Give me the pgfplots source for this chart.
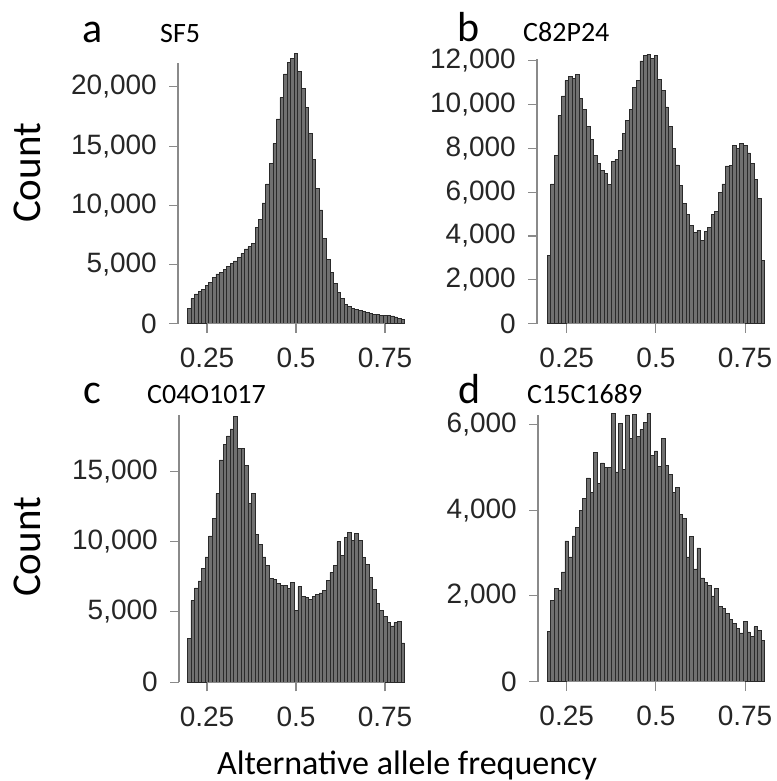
\documentclass[border=0pt]{standalone}
\usepackage{pgfplots}
\pgfplotsset{compat=1.18}
\usepackage{pgfplotstable}
\usepackage{fontspec}
\setmainfont{Liberation Sans}
\newfontfamily\calfont{Carlito}
\definecolor{barfill}{HTML}{707070}
\definecolor{baredge}{HTML}{2A2A2A}
\definecolor{axgray}{HTML}{8A8A8A}
\definecolor{txt}{HTML}{262626}

\pgfplotstableread{
x a b c d
0.20 1250 3130 3100 1180
0.21 2100 6380 5800 1900
0.22 2500 7700 6700 2170
0.23 2700 9500 7200 2140
0.24 2900 10400 8100 2560
0.25 3200 11100 8900 3280
0.26 3500 11300 10400 2910
0.27 3900 11200 11650 3400
0.28 4200 11400 13400 3590
0.29 4300 10300 15800 4000
0.30 4600 9800 16900 4270
0.31 4800 9000 17500 4750
0.32 5100 8400 18000 4420
0.33 5300 7700 18900 5350
0.34 5600 7300 16600 4620
0.35 5900 7000 16600 5100
0.36 6300 6850 15400 5000
0.37 6500 6350 12700 4990
0.38 6800 7400 13400 6250
0.39 8100 7500 10500 4890
0.40 8800 7900 9800 6030
0.41 10200 8700 8900 4940
0.42 11800 9300 8300 6220
0.43 13500 9800 7400 5670
0.44 15200 10800 7300 6230
0.45 17300 11100 7000 5710
0.46 19100 12000 6900 5880
0.47 21100 12250 6900 6040
0.48 22100 12300 6650 6250
0.49 22400 12100 7100 5280
0.50 22800 12250 5100 5380
0.51 21300 11150 6800 5010
0.52 19900 10650 6100 5670
0.53 18300 9900 6050 5040
0.54 16100 9000 5900 4830
0.55 13900 8000 6100 4420
0.56 11400 7250 6250 4520
0.57 9600 6300 6350 3900
0.58 7200 5500 6500 3800
0.59 5400 5000 7250 2910
0.60 4300 4500 7800 3380
0.61 3400 4150 8300 2630
0.62 2600 4270 10000 3120
0.63 2100 3800 9000 2420
0.64 1600 4200 10300 2310
0.65 1450 4400 10650 2250
0.66 1300 5000 10100 2000
0.67 1200 5130 10600 2170
0.68 1100 6000 10100 1750
0.69 1050 6380 8850 1700
0.70 960 7200 8350 1590
0.71 880 7220 7450 1450
0.72 800 8140 6600 1360
0.73 750 8000 5600 1240
0.74 700 8240 5100 1140
0.75 700 8150 4700 1400
0.76 680 7800 4250 1160
0.77 650 7300 4000 1060
0.78 550 6600 4250 1280
0.79 450 5700 4350 1200
0.80 350 2870 2800 970
}\hist

\tikzset{axl/.style={axgray, line width=1.1pt}}
\pgfplotsset{
 hp/.style={
  anchor=south west, clip=false,
  axis x line*=bottom, axis y line*=left,
  axis line style={draw=none},
  tick align=outside,
  major tick length=9pt,
  tick style={axgray, line width=1.1pt},
  xtick={0.25,0.5,0.75}, xticklabels={0.25,0.5,0.75},
  ticklabel style={font=\fontsize{28}{28}\selectfont, text=txt, inner sep=1pt},
  xticklabel style={yshift=-14pt},
  yticklabel style={xshift=-11pt},
  xmax=0.81, ymin=0,
  scaled y ticks=false,
 },
 hbar/.style={ybar, bar width=0.01, bar shift=0pt, fill=barfill, draw=baredge, line width=0.6pt},
}

\begin{document}
\begin{tikzpicture}
\path[use as bounding box] (0pt,0pt) rectangle (776pt,-781pt);

% panel a
\begin{axis}[hp, at={(178pt,-323.5pt)}, x=356pt, y=0.011825pt, xmin=0.1685, ymax=23000,
  ytick={0,5000,10000,15000,20000}, yticklabels={0,{5,000},{10,000},{15,000},{20,000}}]
\addplot[hbar] table[x=x,y=a]{\hist};
\draw[axl] (axis cs:0.25,0) -- (axis cs:0.75,0);
\draw[axl] (axis cs:0.1685,0) -- (axis cs:0.1685,22000);
\end{axis}

% panel b
\begin{axis}[hp, at={(537pt,-323.5pt)}, x=356.7pt, y=0.021875pt, xmin=0.1667, ymax=12500,
  ytick={0,2000,4000,6000,8000,10000,12000}, yticklabels={0,{2,000},{4,000},{6,000},{8,000},{10,000},{12,000}}]
\addplot[hbar] table[x=x,y=b]{\hist};
\draw[axl] (axis cs:0.25,0) -- (axis cs:0.75,0);
\draw[axl] (axis cs:0.1667,0) -- (axis cs:0.1667,12100);
\end{axis}

% panel c
\begin{axis}[hp, at={(179pt,-682.3pt)}, x=356pt, y=0.014087pt, xmin=0.1713, ymax=19500,
  ytick={0,5000,10000,15000}, yticklabels={0,{5,000},{10,000},{15,000}}]
\addplot[hbar] table[x=x,y=c]{\hist};
\draw[axl] (axis cs:0.25,0) -- (axis cs:0.75,0);
\draw[axl] (axis cs:0.1713,0) -- (axis cs:0.1713,18950);
\end{axis}

% panel d
\begin{axis}[hp, at={(538pt,-681.7pt)}, x=356.7pt, y=0.0429pt, xmin=0.1695, ymax=6400,
  ytick={0,2000,4000,6000}, yticklabels={0,{2,000},{4,000},{6,000}}]
\addplot[hbar] table[x=x,y=d]{\hist};
\draw[axl] (axis cs:0.25,0) -- (axis cs:0.75,0);
\draw[axl] (axis cs:0.1695,0) -- (axis cs:0.1695,6220);
\end{axis}

% letters and titles
\begin{scope}[every node/.style={inner sep=0pt, anchor=base west, text=black}]
\node[font=\calfont\fontsize{42}{42}\selectfont] at (82pt,-43pt) {a};
\node[font=\calfont\fontsize{42}{42}\selectfont] at (457pt,-42pt) {b};
\node[font=\calfont\fontsize{42}{42}\selectfont] at (83pt,-403pt) {c};
\node[font=\calfont\fontsize{42}{42}\selectfont] at (458pt,-403pt) {d};
\node[font=\calfont\fontsize{28}{28}\selectfont] at (160pt,-43pt) {SF5};
\node[font=\calfont\fontsize{28}{28}\selectfont] at (523pt,-42pt) {C82P24};
\node[font=\calfont\fontsize{28}{28}\selectfont] at (147pt,-403pt) {C04O1017};
\node[font=\calfont\fontsize{28}{28}\selectfont] at (527pt,-403pt) {C15C1689};
\end{scope}

\node[inner sep=0pt, anchor=base, rotate=90, font=\calfont\fontsize{41}{41}\selectfont] at (40pt,-173pt) {Count};
\node[inner sep=0pt, anchor=base, rotate=90, font=\calfont\fontsize{41}{41}\selectfont] at (40pt,-547pt) {Count};
\node[inner sep=0pt, anchor=base, font=\calfont\fontsize{34}{34}\selectfont] at (407pt,-774pt) {Alternative allele frequency};
\end{tikzpicture}
\end{document}
